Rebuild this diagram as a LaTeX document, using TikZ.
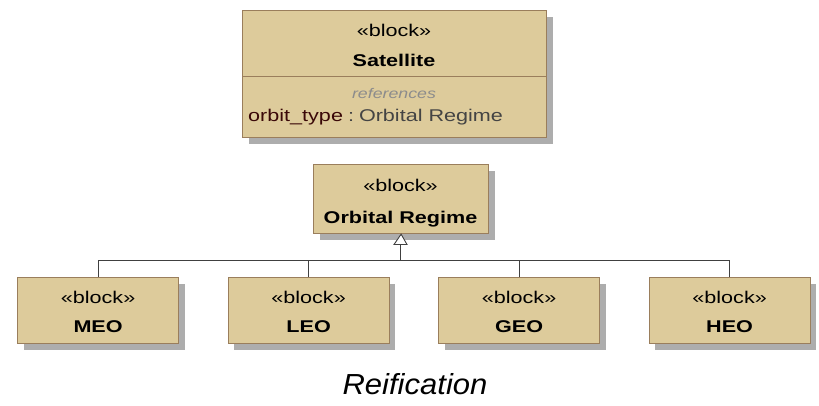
\documentclass[tikz,border=0pt]{standalone}
\usepackage{fontspec}
\setmainfont{Liberation Sans}
\newfontfamily\boxfont[FakeStretch=1.27]{Liberation Sans}
\newfontfamily\capfont[FakeStretch=1.07]{Liberation Sans}
\usetikzlibrary{shadows}
\definecolor{blockfill}{HTML}{DDCB9B}
\definecolor{blockedge}{HTML}{9A7E5C}
\definecolor{linegray}{HTML}{404040}
\definecolor{propred}{HTML}{3A0808}
\definecolor{typegray}{HTML}{444444}
\begin{document}
\begin{tikzpicture}[x=1pt,y=-1pt,
  blockbox/.style={draw=blockedge, line width=1.2pt, fill=blockfill, anchor=north west,
    inner sep=0pt, drop shadow={shadow xshift=6pt, shadow yshift=-6pt, fill=black!32, opacity=1}},
  stereo/.style={anchor=base, inner sep=0pt, font=\boxfont\fontsize{17}{20}\selectfont},
  bname/.style={anchor=base, inner sep=0pt, font=\boxfont\bfseries\fontsize{17}{20}\selectfont},
  conn/.style={draw=linegray, line width=0.9pt},
  gentri/.style={draw=linegray, line width=0.9pt, fill=white, line join=miter}
]
\useasboundingbox (0,0) rectangle (819,405);

% Satellite
\node[blockbox, minimum width=304pt, minimum height=127pt] (sat) at (242,10) {};
\draw[draw=blockedge, line width=1pt] (sat.west |- 0,76) coordinate (dl) -- (sat.east |- 0,76) coordinate (dr);
\node[stereo] (satst) at (394,36) {«block»};
\node[bname] (satnm) at (394,66.5) {Satellite};
\node[anchor=base, inner sep=0pt, text=black!45, font=\boxfont\itshape\fontsize{14}{17}\selectfont] (satref) at (394,98) {references};
\node[anchor=base west, inner sep=0pt, font=\boxfont\fontsize{17}{20}\selectfont] (satprop) at (248,121.5) {\textcolor{propred}{orbit\_type}\hspace{5pt}\textcolor{typegray}{:\hspace{5pt}Orbital Regime}};

% Orbital Regime
\node[blockbox, minimum width=175pt, minimum height=69pt] (orb) at (313,164) {};
\node[stereo] (orbst) at (400.5,191) {«block»};
\node[bname] (orbnm) at (400.5,223) {Orbital Regime};

% subtypes
\node[blockbox, minimum width=161pt, minimum height=66pt] (meo) at (17,277) {};
\node[blockbox, minimum width=161pt, minimum height=66pt] (leo) at (227.5,277) {};
\node[blockbox, minimum width=161pt, minimum height=66pt] (geo) at (438,277) {};
\node[blockbox, minimum width=161pt, minimum height=66pt] (heo) at (648.5,277) {};
\foreach \b/\t in {meo/MEO, leo/LEO, geo/GEO, heo/HEO}{
  \node[stereo] (\b st) at ([yshift=-26pt]\b.north) {«block»};
  \node[bname] (\b nm) at ([yshift=-55pt]\b.north) {\t};
}

% generalization tree
\coordinate (bus) at (400.5,260);
\coordinate (tribase) at (400.5,244.5);
\coordinate (meoj) at (meo.north |- bus);
\coordinate (leoj) at (leo.north |- bus);
\coordinate (geoj) at (geo.north |- bus);
\coordinate (heoj) at (heo.north |- bus);
\draw[conn] (meo.north) -- (meoj) -- (heoj) -- (heo.north);
\draw[conn] (leo.north) -- (leoj);
\draw[conn] (geo.north) -- (geoj);
\draw[conn] (bus) -- (tribase);
\draw[gentri] (orb.south) -- ([xshift=-6.5pt]tribase) -- ([xshift=6.5pt]tribase) -- cycle;

% caption
\node[anchor=base, inner sep=0pt, font=\capfont\itshape\fontsize{29}{34}\selectfont] (cap) at (415,394) {Reification};
\end{tikzpicture}
\end{document}
